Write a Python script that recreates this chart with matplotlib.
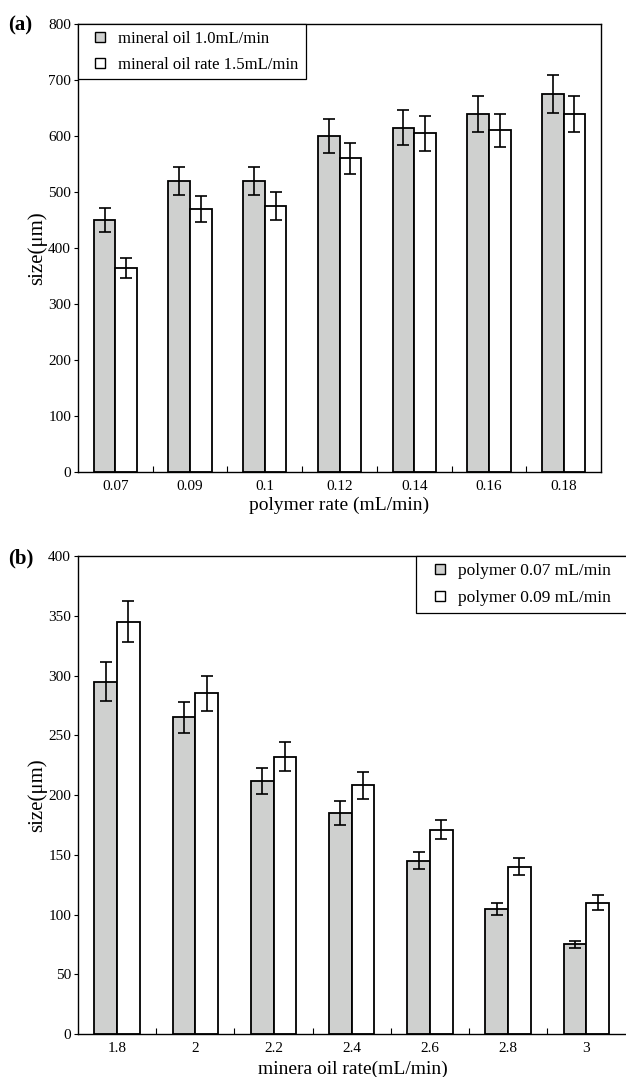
import numpy as np
import matplotlib
matplotlib.use("Agg")
import matplotlib.pyplot as plt
from matplotlib.lines import Line2D

# panel (a): size vs polymer rate
poly_labels = ["0.07", "0.09", "0.1", "0.12", "0.14", "0.16", "0.18"]
oil10_size = [450, 520, 520, 600, 615, 640, 675]
oil10_err = [22, 25, 25, 30, 31, 32, 34]
oil15_size = [365, 470, 475, 560, 605, 610, 640]
oil15_err = [18, 23, 25, 27, 31, 30, 32]

# panel (b): size vs mineral oil rate
oil_labels = ["1.8", "2", "2.2", "2.4", "2.6", "2.8", "3"]
poly07_size = [295, 265, 212, 185, 145, 105, 75]
poly07_err = [16, 13, 11, 10, 7, 5, 3]
poly09_size = [345, 285, 232, 208, 171, 140, 110]
poly09_err = [17, 15, 12, 11, 8, 7, 6]

GRAY = "#cfd0cf"
plt.rcParams["font.family"] = ["Liberation Serif", "DejaVu Serif"]


def bar_panel(ax, labels, s1, e1, s2, e2, ymax, ystep, names, xlabel,
              xright, leg_box, leg_size, xlabel_x):
    x = np.arange(len(labels))
    w = 0.29
    ekw = dict(ecolor="black", elinewidth=1.2, capsize=4, capthick=1.2)
    ax.bar(x - w / 2, s1, w, yerr=e1, color=GRAY, edgecolor="black",
           linewidth=1.3, error_kw=ekw, zorder=2)
    ax.bar(x + w / 2, s2, w, yerr=e2, color="white", edgecolor="black",
           linewidth=1.3, error_kw=ekw, zorder=2)
    ax.set_xlim(-0.5, xright)
    ax.set_ylim(0, ymax)
    ax.set_yticks(np.arange(0, ymax + 1, ystep))
    ax.set_xticks(x)
    ax.set_xticklabels(labels)
    ax.set_xticks(np.arange(0.5, len(labels) - 1, 1.0), minor=True)
    ax.tick_params(axis="x", which="major", length=0, pad=6, labelsize=11)
    ax.tick_params(axis="x", which="minor", direction="in", length=4, width=0.8)
    ax.tick_params(axis="y", direction="out", length=3, width=0.8, labelsize=11, pad=2)
    for sp in ax.spines.values():
        sp.set_linewidth(1.0)
    ax.set_xlabel(xlabel, fontsize=14, labelpad=4)
    ax.xaxis.set_label_coords(xlabel_x, -0.055)
    ax.set_ylabel("size(μm)", fontsize=15, labelpad=1)
    handles = [Line2D([], [], marker="s", linestyle="none", markersize=7.5,
                      markerfacecolor=GRAY, markeredgecolor="black", markeredgewidth=1.0),
               Line2D([], [], marker="s", linestyle="none", markersize=7.5,
                      markerfacecolor="white", markeredgecolor="black", markeredgewidth=1.0)]
    leg = ax.legend(handles, names, loc="upper left", bbox_to_anchor=leg_box,
                    mode="expand", fontsize=leg_size, frameon=True,
                    fancybox=False, borderaxespad=0, handlelength=1.9,
                    handletextpad=0.1, labelspacing=0.6, borderpad=0.4)
    leg.get_frame().set_edgecolor("black")
    leg.get_frame().set_linewidth(0.9)
    leg.get_frame().set_alpha(1)


fig = plt.figure(figsize=(6.26, 10.77), dpi=100)
ax_a = fig.add_axes([0.1246, 0.5617, 0.8355, 0.416])
ax_b = fig.add_axes([0.1246, 0.0399, 0.902, 0.4438])

bar_panel(ax_a, poly_labels, oil10_size, oil10_err, oil15_size, oil15_err,
          800, 100, ["mineral oil 1.0mL/min", "mineral oil rate 1.5mL/min"],
          "polymer rate (mL/min)", 6.5, (0.0, 0.0, 0.436, 1.0), 12, 0.5)
bar_panel(ax_b, oil_labels, poly07_size, poly07_err, poly09_size, poly09_err,
          400, 50, ["polymer 0.07 mL/min", "polymer 0.09 mL/min"],
          "minera oil rate(mL/min)", 6.72, (0.599, 0.0, 0.41, 1.0), 12.5, 0.487)

fig.text(0.013, 1 - 25 / 1077, "(a)", fontsize=15, fontweight="bold", va="center")
fig.text(0.013, 1 - 558 / 1077, "(b)", fontsize=15, fontweight="bold", va="center")

fig.savefig("out.png", dpi=100)
